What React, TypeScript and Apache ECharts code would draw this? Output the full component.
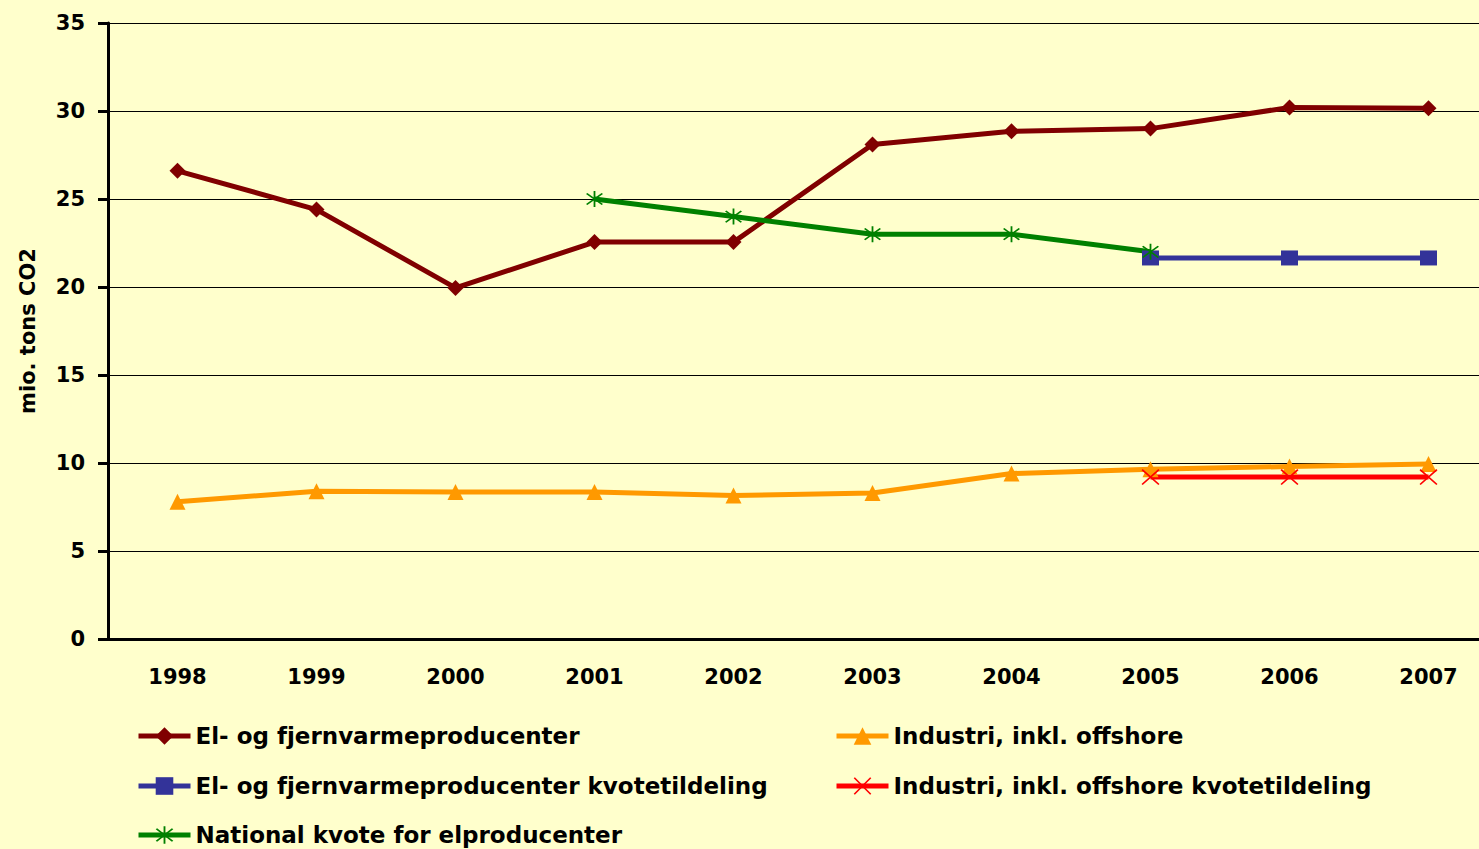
import React, { useEffect, useRef } from "react";
import * as echarts from "echarts";

const years = ["1998", "1999", "2000", "2001", "2002", "2003", "2004", "2005", "2006", "2007"];
const elProducenter = [26.6, 24.4, 19.95, 22.55, 22.55, 28.1, 28.85, 29.0, 30.2, 30.15];
const industri = [7.8, 8.4, 8.35, 8.35, 8.15, 8.3, 9.4, 9.65, 9.8, 9.95];
const elKvote = [null, null, null, null, null, null, null, 21.65, 21.65, 21.65];
const industriKvote = [null, null, null, null, null, null, null, 9.2, 9.2, 9.2];
const nationalKvote = [null, null, null, 25.0, 24.0, 23.0, 23.0, 22.0, null, null];
const yTicks = [0, 5, 10, 15, 20, 25, 30, 35];

const names = [
  "El- og fjernvarmeproducenter",
  "Industri, inkl. offshore",
  "El- og fjernvarmeproducenter kvotetildeling",
  "Industri, inkl. offshore kvotetildeling",
  "National kvote for elproducenter",
];

const asteriskPath =
  "path://M46 0L54 0L54 100L46 100ZM12 18L18 12L88 82L82 88ZM82 12L88 18L18 88L12 82Z";
const crossPath =
  "path://M12.5 17.5L17.5 12.5L87.5 82.5L82.5 87.5ZM82.5 12.5L87.5 17.5L17.5 87.5L12.5 82.5Z";

const FONT = "DejaVu Sans";

export default function App() {
  const ref = useRef<HTMLDivElement>(null);
  useEffect(() => {
    if (!ref.current) return;
    const chart = echarts.init(ref.current, null, { renderer: "svg" });
    const legendText = { fontFamily: FONT, fontWeight: "bold", fontSize: 23, color: "#000", lineHeight: 26 };
    const mkLegend = (name: string, left: number, top: number) => ({
      data: [name],
      left,
      top,
      padding: 0,
      itemWidth: 52,
      itemHeight: 22,
      itemGap: 0,
      textStyle: legendText,
      lineStyle: { width: 5 },
      selectedMode: false,
    });
    chart.setOption({
      animation: false,
      backgroundColor: "#FFFFCC",
      grid: { left: 108, top: 23, width: 1390, height: 616, containLabel: false },
      legend: [
        mkLegend(names[0], 136, 723),
        mkLegend(names[2], 136, 773),
        mkLegend(names[4], 136, 822),
        mkLegend(names[1], 834, 723),
        mkLegend(names[3], 834, 773),
      ],
      xAxis: {
        type: "category",
        data: years,
        boundaryGap: true,
        axisLine: { lineStyle: { color: "#000", width: 3 } },
        axisTick: { length: 8, lineStyle: { color: "#000", width: 3 } },
        axisLabel: { fontFamily: FONT, fontWeight: "bold", fontSize: 21, color: "#000", margin: 27 },
        splitLine: { show: false },
      },
      yAxis: {
        type: "value",
        min: 0,
        max: 35,
        interval: 5,
        name: "mio. tons CO2",
        nameLocation: "middle",
        nameRotate: 90,
        nameGap: 70,
        nameTextStyle: { fontFamily: FONT, fontWeight: "bold", fontSize: 21, color: "#000" },
        axisLine: { show: true, lineStyle: { color: "#000", width: 3 } },
        axisTick: { show: true, length: 10, lineStyle: { color: "#000", width: 3 } },
        axisLabel: {
          fontFamily: FONT,
          fontWeight: "bold",
          fontSize: 21,
          color: "#000",
          margin: 23,
          formatter: (v: number) => (yTicks.includes(v) ? String(v) : ""),
        },
        splitLine: { lineStyle: { color: "#000", width: 1 } },
      },
      series: [
        {
          name: names[0],
          type: "line",
          data: elProducenter,
          symbol: "diamond",
          symbolSize: 16,
          lineStyle: { color: "#800000", width: 5 },
          itemStyle: { color: "#800000" },
        },
        {
          name: names[1],
          type: "line",
          data: industri,
          symbol: "triangle",
          symbolSize: 16,
          lineStyle: { color: "#FF9900", width: 5 },
          itemStyle: { color: "#FF9900" },
        },
        {
          name: names[2],
          type: "line",
          data: elKvote,
          symbol: "rect",
          symbolSize: [17, 15],
          lineStyle: { color: "#333399", width: 5 },
          itemStyle: { color: "#333399" },
        },
        {
          name: names[3],
          type: "line",
          data: industriKvote,
          symbol: crossPath,
          symbolSize: [18, 16],
          lineStyle: { color: "#FF0000", width: 5 },
          itemStyle: { color: "#FF0000" },
        },
        {
          name: names[4],
          type: "line",
          data: nationalKvote,
          symbol: asteriskPath,
          symbolSize: [17, 16],
          lineStyle: { color: "#008000", width: 5 },
          itemStyle: { color: "#008000" },
        },
      ],
    });
    return () => chart.dispose();
  }, []);
  return (
    <div
      ref={ref}
      style={{ position: "fixed", left: 0, top: 0, width: 1510, height: 849 }}
    />
  );
}
